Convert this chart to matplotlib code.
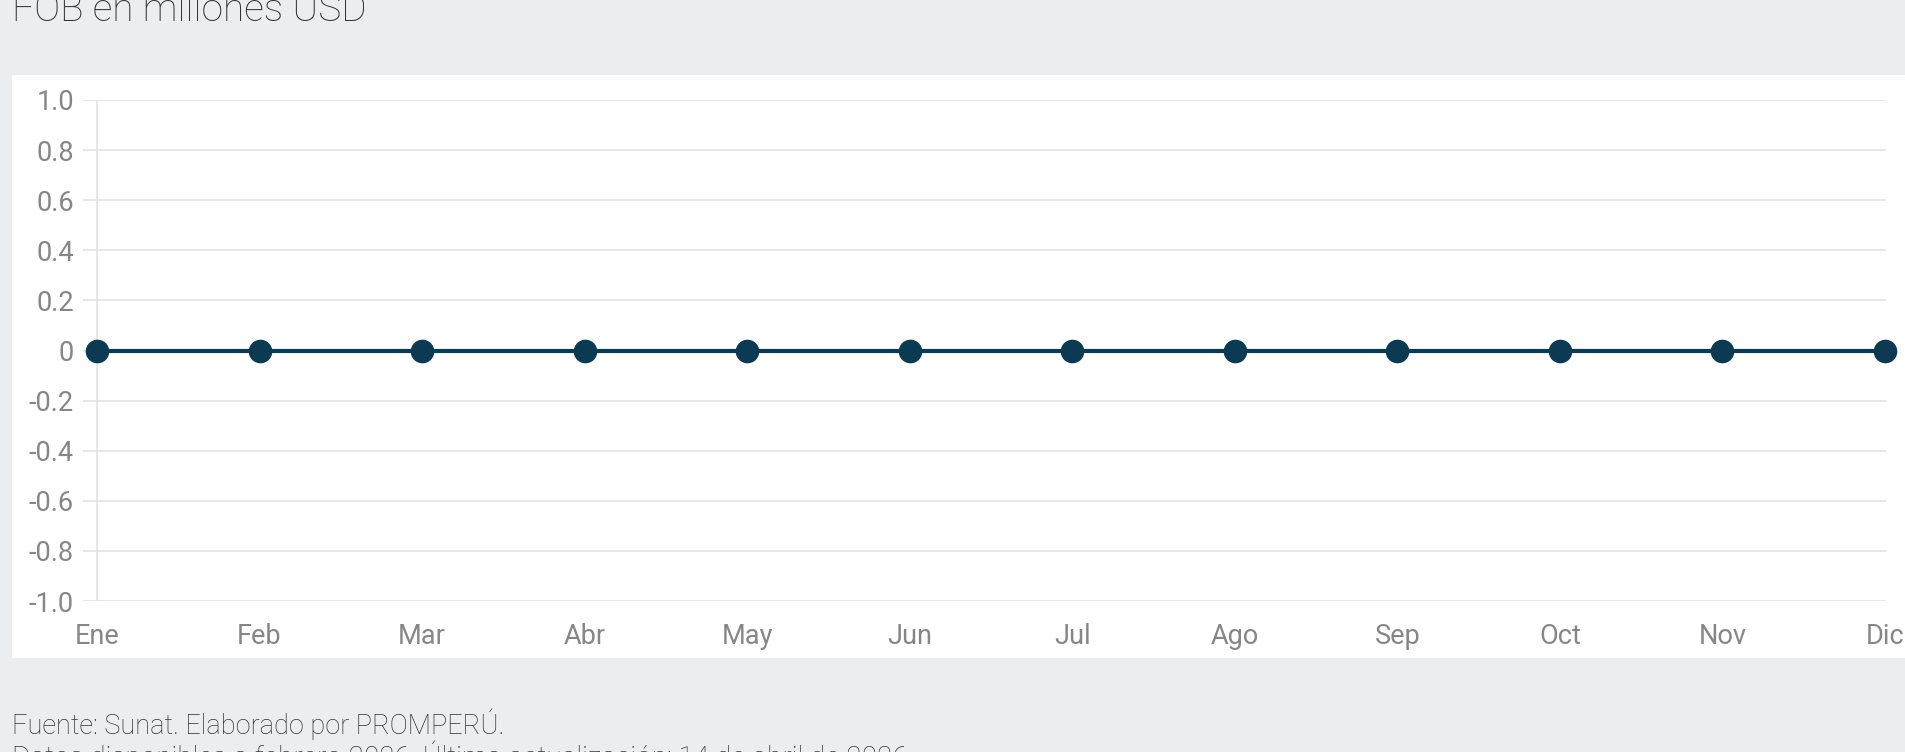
import matplotlib
matplotlib.use("Agg")
import matplotlib.pyplot as plt
from matplotlib.patches import Rectangle

months = ["Ene", "Feb", "Mar", "Abr", "May", "Jun", "Jul", "Ago", "Sep", "Oct", "Nov", "Dic"]
values = [0, 0, 0, 0, 0, 0, 0, 0, 0, 0, 0, 0]
y_ticks = [1.0, 0.8, 0.6, 0.4, 0.2, 0, -0.2, -0.4, -0.6, -0.8, -1.0]
y_tick_labels = ["1.0", "0.8", "0.6", "0.4", "0.2", "0", "-0.2", "-0.4", "-0.6", "-0.8", "-1.0"]
title = "FOB en millones USD"
footer1 = "Fuente: Sunat. Elaborado por PROMPERÚ."
footer2 = "Datos disponibles a febrero 2026. Última actualización: 14 de abril de 2026."

W, H = 1905, 752
DPI = 100
plt.rcParams['font.family'] = ['Roboto', 'DejaVu Sans']

BG = '#eaeef1'
LINE = '#0c3a53'
GRID = '#e3e3e3'
TXT = '#868686'

fig = plt.figure(figsize=(W / DPI, H / DPI), dpi=DPI, facecolor=BG)

def px(x0, y0, x1, y1):
    return [x0 / W, 1 - y1 / H, (x1 - x0) / W, (y1 - y0) / H]

# white panel
fig.patches.append(Rectangle((12 / W, 1 - 658 / H), (W - 12) / W, (658 - 75) / H,
                             transform=fig.transFigure, facecolor='white', edgecolor='none', zorder=-5))

ax = fig.add_axes(px(83, 100, 1886, 601))
ax.set_zorder(2)
ax.set_facecolor('none')
n = len(months)
unit = (1885 - 97) / (n - 1)
ax.set_xlim(-(97 - 83) / unit, (n - 1) + (1886 - 1885) / unit)
ax.set_ylim(-1.0, 1.0)

for s in ax.spines.values():
    s.set_visible(False)

ax.set_yticks(y_ticks)
ax.set_yticklabels(y_tick_labels)
ax.set_xticks(range(n))
ax.set_xticklabels(months)
ax.tick_params(axis='y', length=0, pad=6.5, labelsize=19.5, labelcolor=TXT)
ax.tick_params(axis='x', length=0, pad=15.5, labelsize=19.5, labelcolor=TXT)

for yv in y_ticks:
    ax.axhline(yv, color=GRID, lw=1.2, zorder=1)
ax.axvline(0, color=GRID, lw=1.2, zorder=1)

ax.plot(range(n), values, color=LINE, lw=3.0, marker='o', markersize=16,
        markerfacecolor=LINE, markeredgecolor=LINE, zorder=5, clip_on=False)

fig.text(12 / W, 1 - 21 / H, title, fontsize=28, color='#333333', fontweight='light',
         ha='left', va='baseline')
fig.text(12 / W, 1 - 734 / H, footer1, fontsize=19.5, color='#333333', fontweight='light',
         ha='left', va='baseline')
fig.text(12 / W, 1 - 766 / H, footer2, fontsize=20.2, color='#333333', fontweight='light',
         ha='left', va='baseline')

fig.savefig('out.png', dpi=DPI, facecolor=BG)
